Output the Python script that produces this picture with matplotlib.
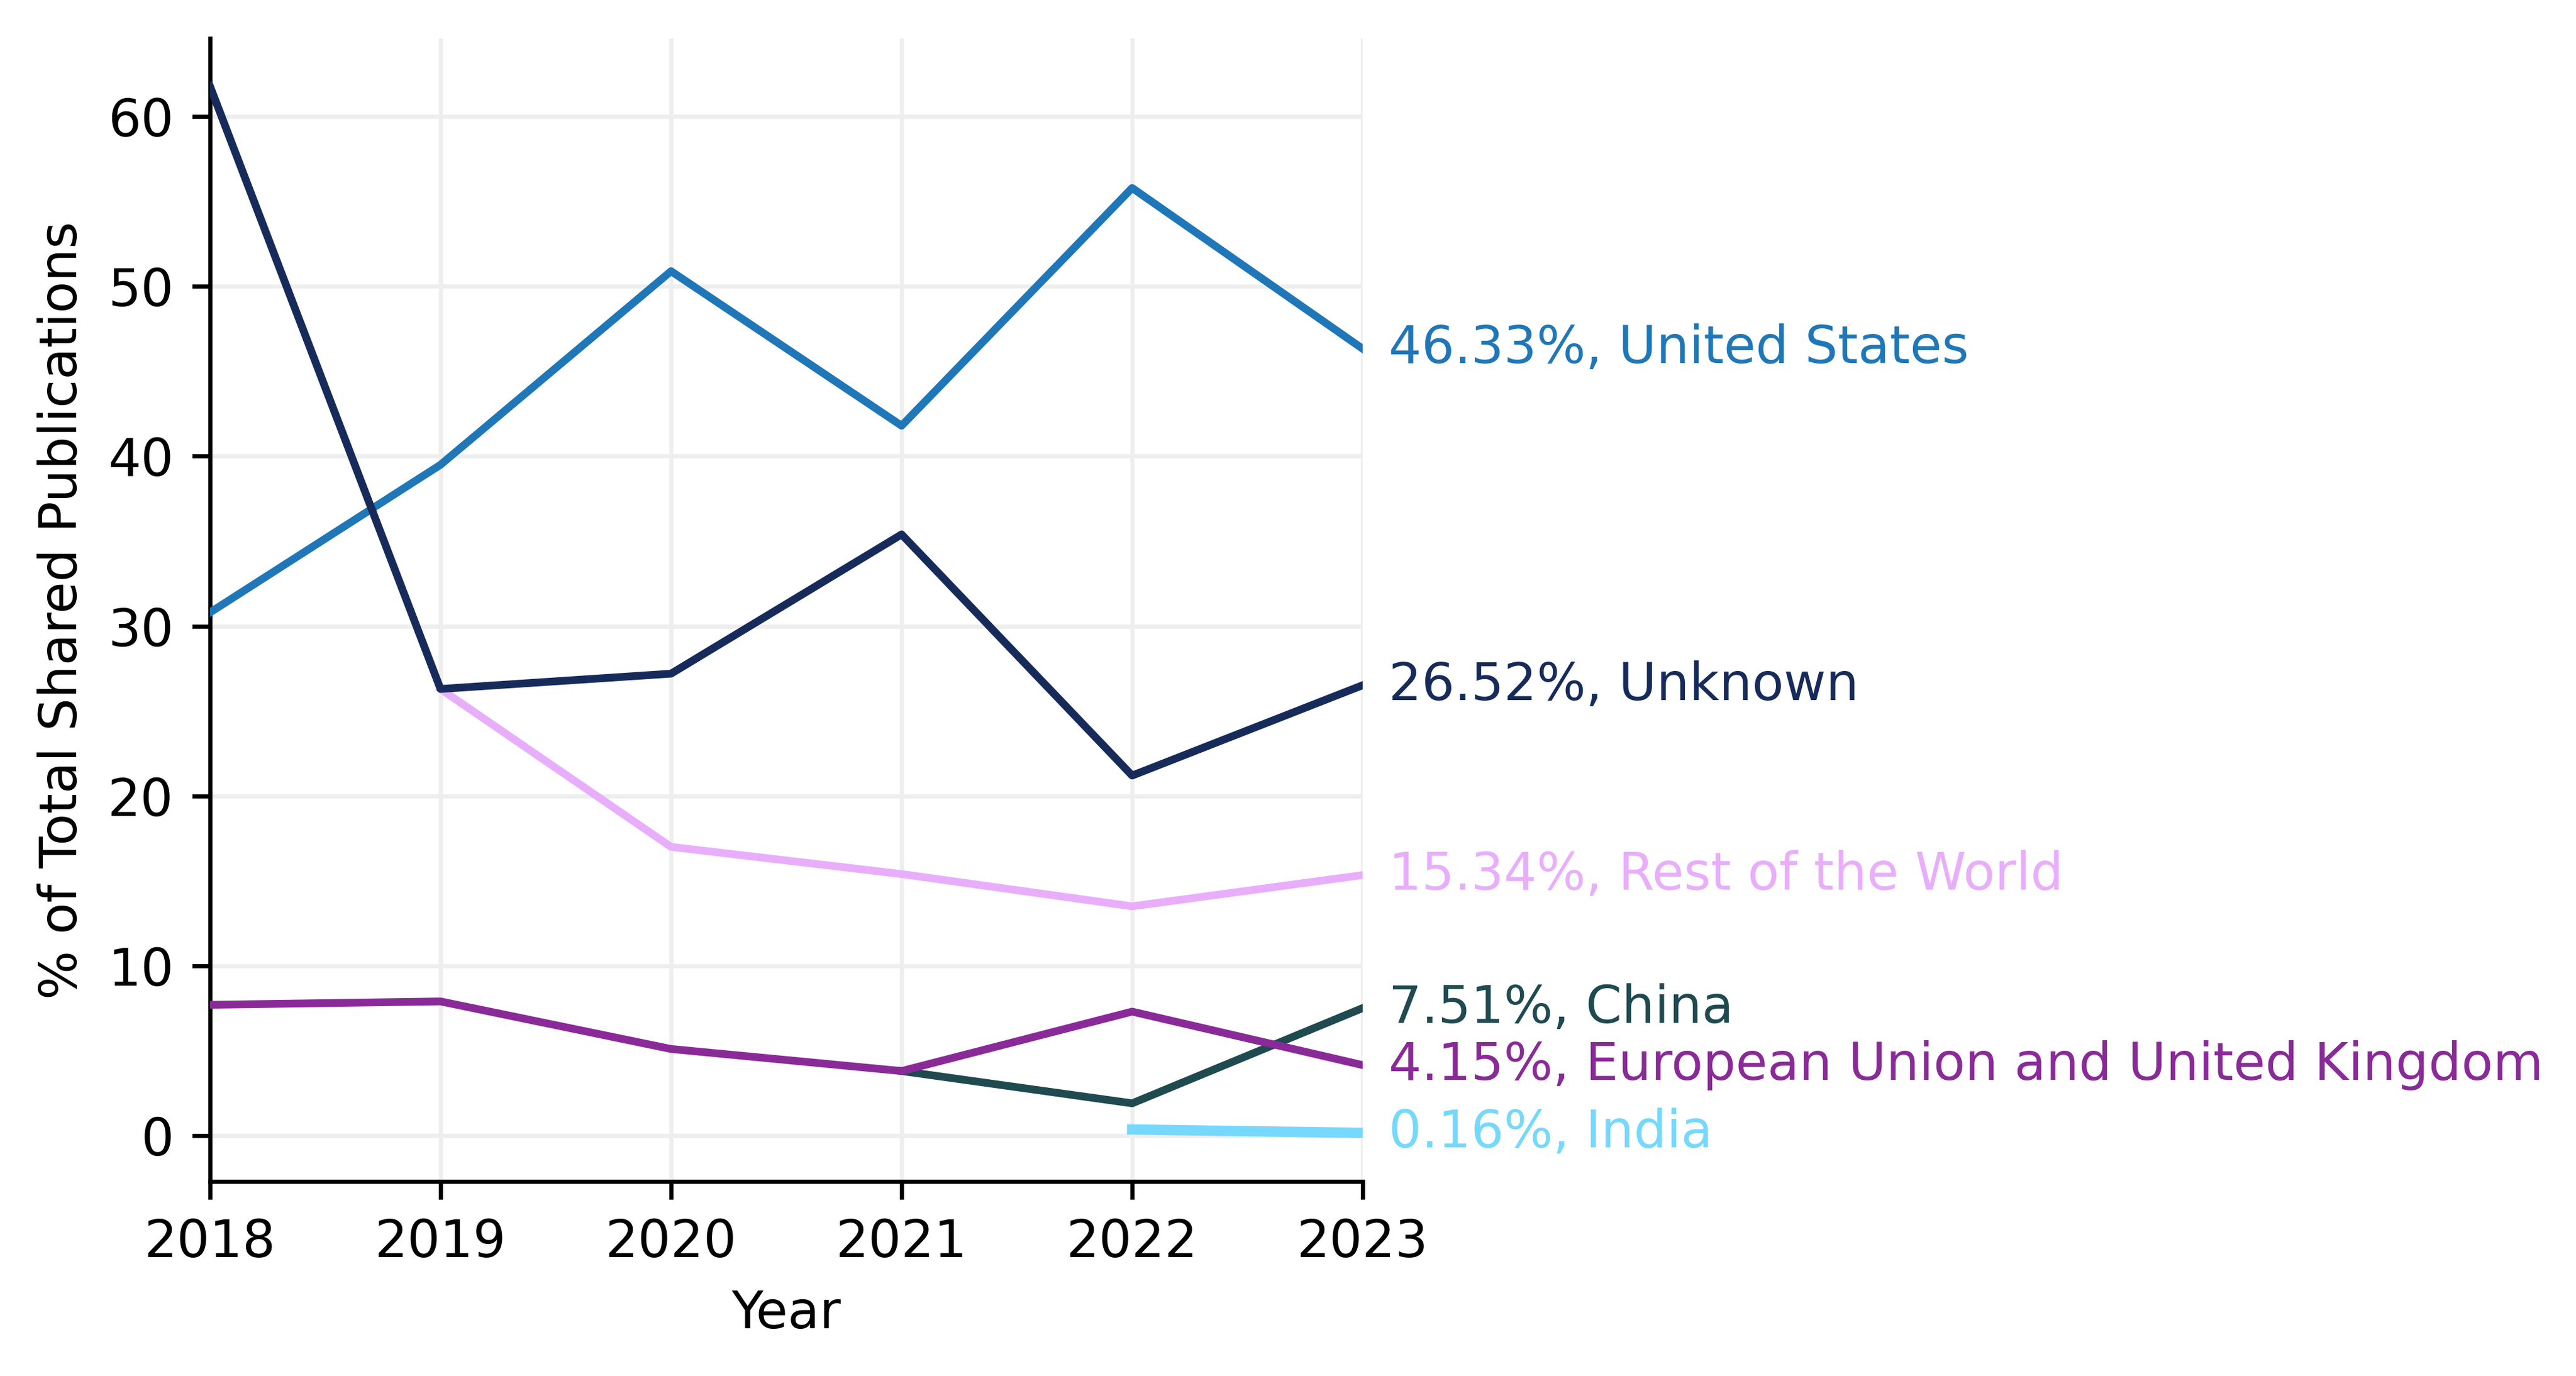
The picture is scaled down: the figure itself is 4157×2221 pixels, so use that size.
import matplotlib
matplotlib.use("Agg")
import matplotlib.pyplot as plt

# values (% of total shared publications)
years_all = [2018, 2019, 2020, 2021, 2022, 2023]
us = [30.8, 39.5, 50.9, 41.8, 55.8, 46.33]
unknown = [61.8, 26.3, 27.2, 35.4, 21.2, 26.52]

years_row = [2019, 2020, 2021, 2022, 2023]
rest_of_world = [26.3, 17.0, 15.4, 13.5, 15.34]

years_cn = [2021, 2022, 2023]
china = [3.8, 1.9, 7.51]

eu_uk = [7.7, 7.9, 5.1, 3.8, 7.3, 4.15]

years_in = [2022, 2023]
india = [0.36, 0.16]

series = [
    ("Rest of the World", years_row, rest_of_world, "#e8aefb", 1.5),
    ("United States", years_all, us, "#1f77b8", 1.5),
    ("Unknown", years_all, unknown, "#172b5a", 1.5),
    ("China", years_cn, china, "#1e4a50", 1.5),
    ("European Union and United Kingdom", years_all, eu_uk, "#8a2a98", 1.5),
    ("India", years_in, india, "#75d8fc", 2.0),
]

fig = plt.figure(figsize=(4157 / 600, 2221 / 600), dpi=600)
ax = fig.add_axes([0.0815, 0.1414, 0.4475, 0.8306])

for name, xs, ys, color, lw in series:
    ax.plot(xs, ys, color=color, linewidth=lw, zorder=3)
    ax.annotate(f"{ys[-1]:.2f}%, {name}", xy=(xs[-1], ys[-1]),
                xytext=(5, 0), textcoords="offset points",
                color=color, fontsize=10, va="center", ha="left",
                annotation_clip=False)

ax.set_xlim(2018, 2023)
ax.set_ylim(-2.7, 64.6)
ax.set_xticks(years_all)
ax.set_yticks([0, 10, 20, 30, 40, 50, 60])
ax.grid(True, color="#eeeeee", linewidth=0.8, zorder=0)
ax.set_axisbelow(True)
ax.spines["top"].set_visible(False)
ax.spines["right"].set_visible(False)
ax.set_xlabel("Year", fontsize=10)
ax.set_ylabel("% of Total Shared Publications", fontsize=10)
ax.tick_params(labelsize=10)

fig.savefig("out.png", dpi=600)
